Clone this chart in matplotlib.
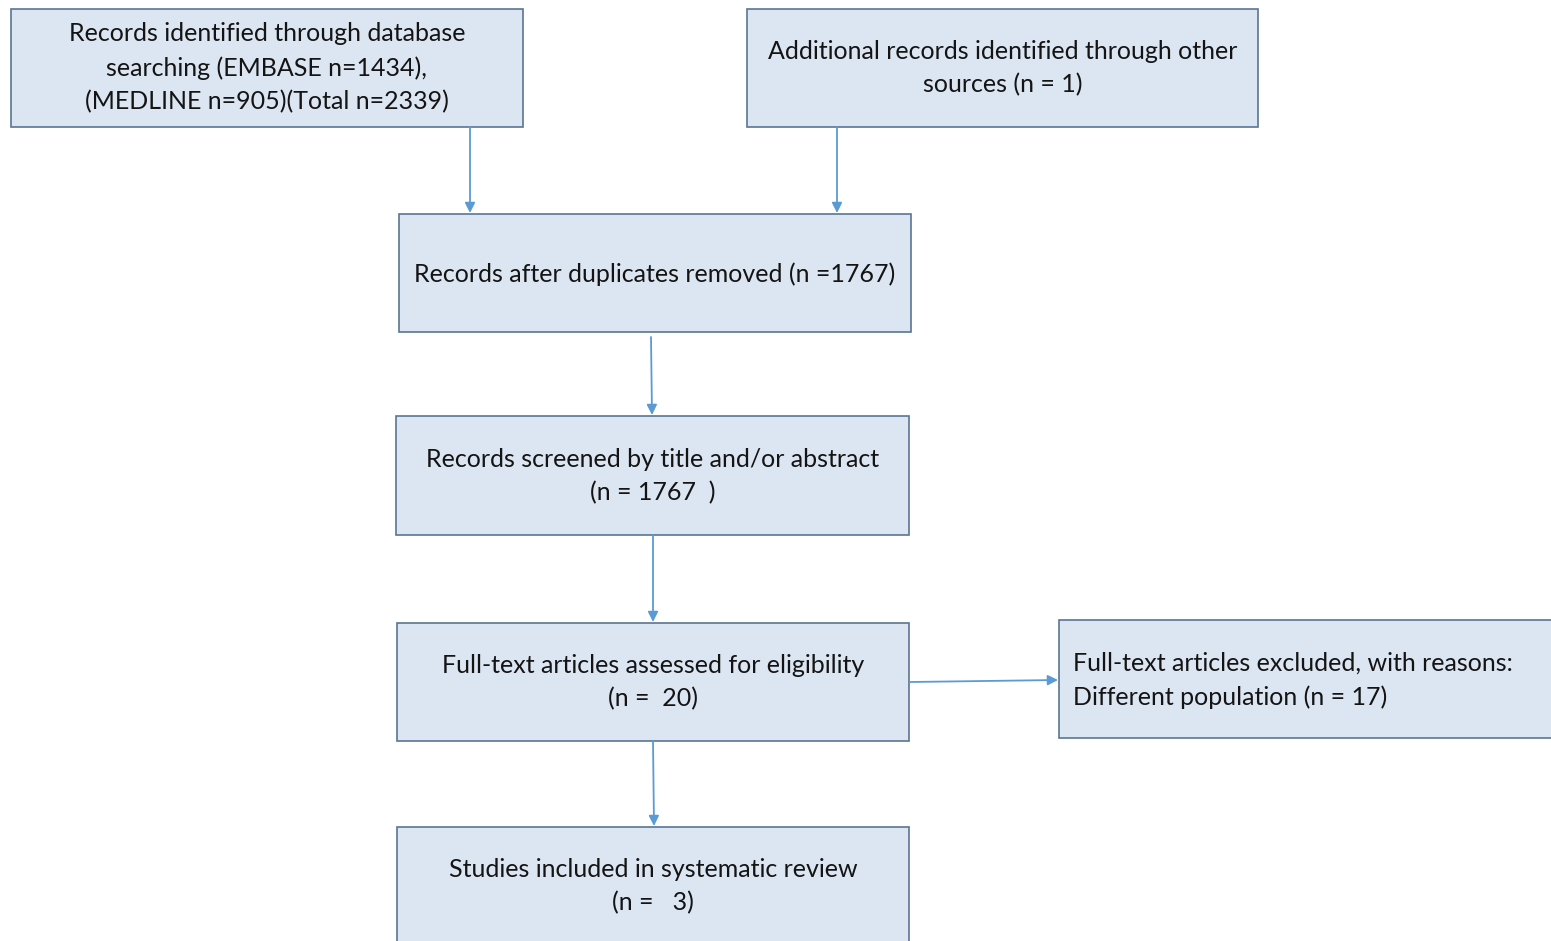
import matplotlib
matplotlib.use("Agg")
import matplotlib.pyplot as plt
from matplotlib.patches import Rectangle, FancyArrowPatch

plt.rcParams['font.family'] = ['Lato', 'DejaVu Sans']

# Box texts
box_texts = [
    "Records identified through database\nsearching (EMBASE n=1434),\n(MEDLINE n=905)(Total n=2339)",
    "Additional records identified through other\nsources (n = 1)",
    "Records after duplicates removed (n =1767)",
    "Records screened by title and/or abstract\n(n = 1767  )",
    "Full-text articles assessed for eligibility\n(n =  20)",
    "Full-text articles excluded, with reasons:\nDifferent population (n = 17)",
    "Studies included in systematic review\n(n =   3)",
]
# layout (pixel coordinates): x0, y0, x1, y1, text center y, alignment
boxes = [
    (11, 9, 523, 127, 68, 'center'),
    (747, 9, 1258, 127, 68, 'center'),
    (399, 214, 911, 332, 274, 'center'),
    (396, 416, 909, 535, 476, 'center'),
    (397, 623, 909, 741, 682, 'center'),
    (1059, 620, 1600, 738, 680, 'left'),
    (397, 827, 909, 990, 886, 'center'),
]
arrows = [
    ((470, 127), (470, 213)),
    ((837, 127), (837, 213)),
    ((651, 337), (652, 415)),
    ((653, 535), (653, 622)),
    ((653, 741), (654, 826)),
    ((910, 682), (1058, 680)),
]

W, H = 1551, 941
fig = plt.figure(figsize=(W / 100, H / 100), dpi=100)
ax = fig.add_axes([0, 0, 1, 1])
ax.set_xlim(0, W)
ax.set_ylim(H, 0)
ax.axis('off')

fill = '#dce6f2'
edge = '#5a7593'
arrow_c = '#5b9bd5'

for (x0, y0, x1, y1, ty, al), txt in zip(boxes, box_texts):
    ax.add_patch(Rectangle((x0, y0), x1 - x0, y1 - y0, facecolor=fill,
                           edgecolor=edge, linewidth=1.2, clip_on=False))
    if al == 'center':
        tx = (x0 + x1) / 2
    else:
        tx = x0 + 14
    ax.text(tx, ty, txt, ha=al, va='center', multialignment=al,
            fontsize=18, color='#141414', linespacing=1.55)

for (p0, p1) in arrows:
    ax.add_patch(FancyArrowPatch(p0, p1, arrowstyle='-|>', mutation_scale=15,
                                 color=arrow_c, linewidth=1.3,
                                 shrinkA=0, shrinkB=0))

fig.savefig('out.png', dpi=100)
